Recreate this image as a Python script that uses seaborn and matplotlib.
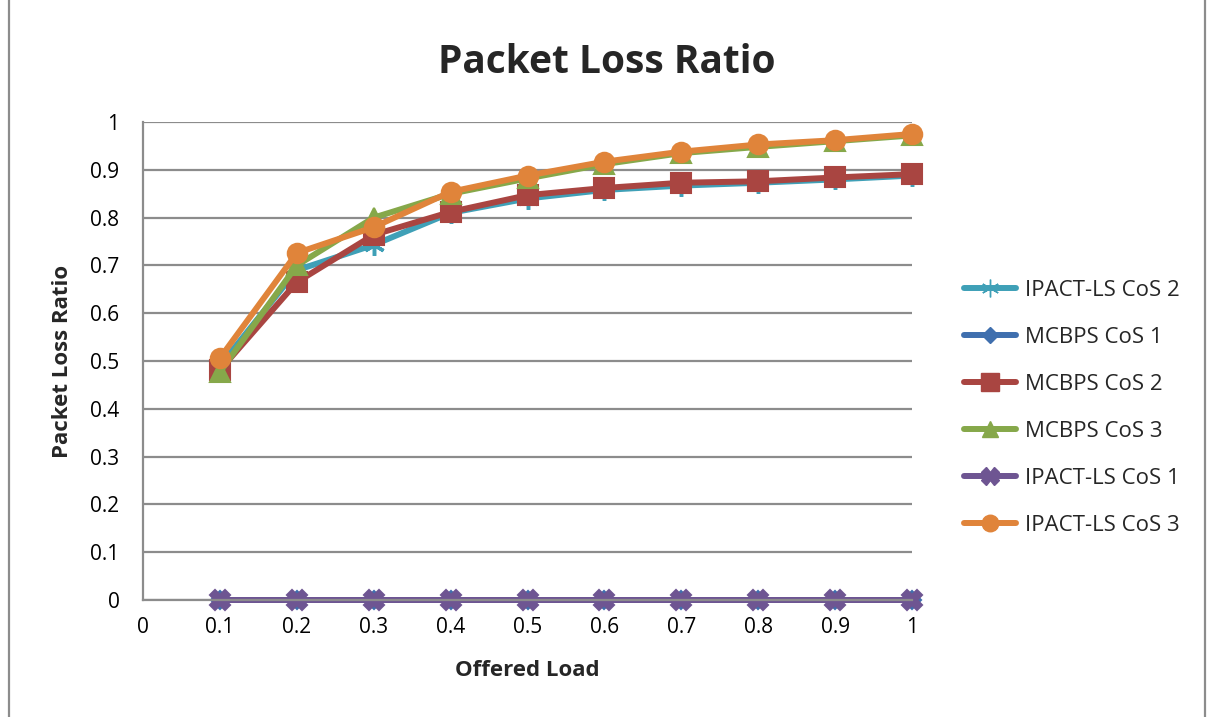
import matplotlib
matplotlib.use("Agg")
import matplotlib.pyplot as plt
from matplotlib.lines import Line2D
import seaborn as sns
import pandas as pd

# Offered load values and packet loss ratios per scheme / class of service
offered_load = [0.1, 0.2, 0.3, 0.4, 0.5, 0.6, 0.7, 0.8, 0.9, 1.0]
ipact_cos2 = [0.490, 0.690, 0.743, 0.810, 0.840, 0.858, 0.867, 0.873, 0.880, 0.888]
mcbps_cos1 = [0.0, 0.0, 0.0, 0.0, 0.0, 0.0, 0.0, 0.0, 0.0, 0.0]
mcbps_cos2 = [0.481, 0.665, 0.764, 0.812, 0.847, 0.862, 0.873, 0.876, 0.884, 0.891]
mcbps_cos3 = [0.477, 0.700, 0.800, 0.850, 0.882, 0.912, 0.935, 0.948, 0.960, 0.972]
ipact_cos1 = [0.0, 0.0, 0.0, 0.0, 0.0, 0.0, 0.0, 0.0, 0.0, 0.0]
ipact_cos3 = [0.506, 0.726, 0.780, 0.854, 0.888, 0.917, 0.938, 0.953, 0.962, 0.975]

series_names = ["IPACT-LS CoS 2", "MCBPS CoS 1", "MCBPS CoS 2",
                "MCBPS CoS 3", "IPACT-LS CoS 1", "IPACT-LS CoS 3"]
series_values = [ipact_cos2, mcbps_cos1, mcbps_cos2, mcbps_cos3, ipact_cos1, ipact_cos3]

x_ticks = [0, 0.1, 0.2, 0.3, 0.4, 0.5, 0.6, 0.7, 0.8, 0.9, 1.0]
x_tick_labels = ["0", "0.1", "0.2", "0.3", "0.4", "0.5", "0.6", "0.7", "0.8", "0.9", "1"]
y_ticks = [0, 0.1, 0.2, 0.3, 0.4, 0.5, 0.6, 0.7, 0.8, 0.9, 1.0]
y_tick_labels = ["0", "0.1", "0.2", "0.3", "0.4", "0.5", "0.6", "0.7", "0.8", "0.9", "1"]

rows = []
for name, vals in zip(series_names, series_values):
    for xv, yv in zip(offered_load, vals):
        rows.append({"Offered Load": xv, "Packet Loss Ratio": yv, "series": name})
df = pd.DataFrame(rows)

palette = {
    "IPACT-LS CoS 2": "#3FA0B7",
    "MCBPS CoS 1": "#3F6FAE",
    "MCBPS CoS 2": "#A94541",
    "MCBPS CoS 3": "#86A84A",
    "IPACT-LS CoS 1": "#6E5592",
    "IPACT-LS CoS 3": "#E0843A",
}
markers = {
    "IPACT-LS CoS 2": (6, 2, 0),
    "MCBPS CoS 1": "D",
    "MCBPS CoS 2": "s",
    "MCBPS CoS 3": "^",
    "IPACT-LS CoS 1": "X",
    "IPACT-LS CoS 3": "o",
}
msizes = {
    "IPACT-LS CoS 2": 15,
    "MCBPS CoS 1": 9,
    "MCBPS CoS 2": 14.5,
    "MCBPS CoS 3": 14,
    "IPACT-LS CoS 1": 15,
    "IPACT-LS CoS 3": 14,
}

sns.set_theme(style="white")
plt.rcParams["font.family"] = ["Open Sans", "DejaVu Sans"]

fig = plt.figure(figsize=(12.08, 7.17), dpi=100)
ax = fig.add_axes([0.1184, 0.1632, 0.755 - 0.1184, 0.8298 - 0.1632])

for name in series_names:
    sub = df[df["series"] == name]
    sns.lineplot(
        data=sub, x="Offered Load", y="Packet Loss Ratio", ax=ax,
        color=palette[name], marker=markers[name], markersize=msizes[name],
        markeredgecolor=palette[name],
        markeredgewidth=2.5 if name == "IPACT-LS CoS 2" else 1.5,
        linewidth=4.3, label=name, legend=False,
    )

ax.set_xlim(0, 1.0)
ax.set_ylim(0, 1.0)
ax.set_xticks(x_ticks)
ax.set_xticklabels(x_tick_labels)
ax.set_yticks(y_ticks)
ax.set_yticklabels(y_tick_labels)
ax.tick_params(axis="both", length=0, labelsize=15, colors="black")
ax.tick_params(axis="y", pad=17)
ax.tick_params(axis="x", pad=12)

ax.yaxis.grid(True, color="#8C8C8C", linewidth=1.6)
ax.xaxis.grid(False)
ax.set_axisbelow(True)
for side in ["top", "right"]:
    ax.spines[side].set_visible(False)
for side in ["left", "bottom"]:
    ax.spines[side].set_color("#8C8C8C")
    ax.spines[side].set_linewidth(1.6)
for line in ax.get_lines():
    line.set_clip_on(False)

ax.set_xlabel("Offered Load", fontsize=16, fontweight="bold", labelpad=16)
ax.set_ylabel("Packet Loss Ratio", fontsize=16, fontweight="bold", labelpad=12)

fig.text(0.5025, 0.913, "Packet Loss Ratio", ha="center", va="center",
         fontsize=28, fontweight="bold")

handles = [
    Line2D([0], [0], color=palette[n], marker=markers[n], markersize=msizes[n] * 0.85,
           markeredgecolor=palette[n], linewidth=4.3, label=n)
    for n in series_names
]
fig.legend(handles=handles, loc="center left", bbox_to_anchor=(0.789, 0.431),
           frameon=False, fontsize=16, handlelength=2.35, handletextpad=0.4,
           labelspacing=1.17, borderpad=0)

# Frame edges of the chart area
fig.add_artist(Line2D([0.0075, 0.0075], [0, 1], transform=fig.transFigure,
                      color="#8C8C8C", linewidth=1.6))
fig.add_artist(Line2D([0.9975, 0.9975], [0, 1], transform=fig.transFigure,
                      color="#8C8C8C", linewidth=1.6))

fig.savefig("out.png", dpi=100)
